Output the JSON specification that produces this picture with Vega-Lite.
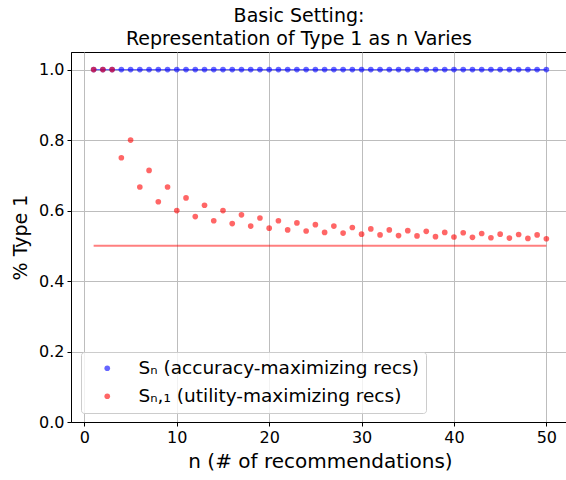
{
  "$schema": "https://vega.github.io/schema/vega-lite/v6.json",
  "autosize": {"type": "none"},
  "width": 498,
  "height": 370,
  "padding": {"left": 71, "top": 52, "right": 0, "bottom": 58},
  "background": "white",
  "title": {
    "text": ["Basic Setting:", "Representation of Type 1 as n Varies"],
    "font": "DejaVu Sans",
    "fontSize": 19,
    "fontWeight": "normal",
    "color": "black",
    "anchor": "middle",
    "dx": -21,
    "offset": 3,
    "lineHeight": 23
  },
  "config": {
    "font": "DejaVu Sans",
    "view": {"stroke": "black", "strokeWidth": 1},
    "axis": {
      "domainColor": "black",
      "tickColor": "black",
      "tickSize": 4,
      "labelFontSize": 16,
      "labelColor": "black",
      "labelFont": "DejaVu Sans",
      "titleFont": "DejaVu Sans",
      "titleFontWeight": "normal",
      "titleColor": "black",
      "gridColor": "#bdbdbd",
      "gridWidth": 1,
      "labelPadding": 3
    },
    "legend": {
      "labelFont": "DejaVu Sans",
      "labelFontSize": 18.5,
      "labelColor": "black",
      "labelLimit": 400
    }
  },
  "datasets": {
    "pts": [
      {"n": 1, "value": 1.0, "series": "Sₙ (accuracy-maximizing recs)"},
      {"n": 2, "value": 1.0, "series": "Sₙ (accuracy-maximizing recs)"},
      {"n": 3, "value": 1.0, "series": "Sₙ (accuracy-maximizing recs)"},
      {"n": 4, "value": 1.0, "series": "Sₙ (accuracy-maximizing recs)"},
      {"n": 5, "value": 1.0, "series": "Sₙ (accuracy-maximizing recs)"},
      {"n": 6, "value": 1.0, "series": "Sₙ (accuracy-maximizing recs)"},
      {"n": 7, "value": 1.0, "series": "Sₙ (accuracy-maximizing recs)"},
      {"n": 8, "value": 1.0, "series": "Sₙ (accuracy-maximizing recs)"},
      {"n": 9, "value": 1.0, "series": "Sₙ (accuracy-maximizing recs)"},
      {"n": 10, "value": 1.0, "series": "Sₙ (accuracy-maximizing recs)"},
      {"n": 11, "value": 1.0, "series": "Sₙ (accuracy-maximizing recs)"},
      {"n": 12, "value": 1.0, "series": "Sₙ (accuracy-maximizing recs)"},
      {"n": 13, "value": 1.0, "series": "Sₙ (accuracy-maximizing recs)"},
      {"n": 14, "value": 1.0, "series": "Sₙ (accuracy-maximizing recs)"},
      {"n": 15, "value": 1.0, "series": "Sₙ (accuracy-maximizing recs)"},
      {"n": 16, "value": 1.0, "series": "Sₙ (accuracy-maximizing recs)"},
      {"n": 17, "value": 1.0, "series": "Sₙ (accuracy-maximizing recs)"},
      {"n": 18, "value": 1.0, "series": "Sₙ (accuracy-maximizing recs)"},
      {"n": 19, "value": 1.0, "series": "Sₙ (accuracy-maximizing recs)"},
      {"n": 20, "value": 1.0, "series": "Sₙ (accuracy-maximizing recs)"},
      {"n": 21, "value": 1.0, "series": "Sₙ (accuracy-maximizing recs)"},
      {"n": 22, "value": 1.0, "series": "Sₙ (accuracy-maximizing recs)"},
      {"n": 23, "value": 1.0, "series": "Sₙ (accuracy-maximizing recs)"},
      {"n": 24, "value": 1.0, "series": "Sₙ (accuracy-maximizing recs)"},
      {"n": 25, "value": 1.0, "series": "Sₙ (accuracy-maximizing recs)"},
      {"n": 26, "value": 1.0, "series": "Sₙ (accuracy-maximizing recs)"},
      {"n": 27, "value": 1.0, "series": "Sₙ (accuracy-maximizing recs)"},
      {"n": 28, "value": 1.0, "series": "Sₙ (accuracy-maximizing recs)"},
      {"n": 29, "value": 1.0, "series": "Sₙ (accuracy-maximizing recs)"},
      {"n": 30, "value": 1.0, "series": "Sₙ (accuracy-maximizing recs)"},
      {"n": 31, "value": 1.0, "series": "Sₙ (accuracy-maximizing recs)"},
      {"n": 32, "value": 1.0, "series": "Sₙ (accuracy-maximizing recs)"},
      {"n": 33, "value": 1.0, "series": "Sₙ (accuracy-maximizing recs)"},
      {"n": 34, "value": 1.0, "series": "Sₙ (accuracy-maximizing recs)"},
      {"n": 35, "value": 1.0, "series": "Sₙ (accuracy-maximizing recs)"},
      {"n": 36, "value": 1.0, "series": "Sₙ (accuracy-maximizing recs)"},
      {"n": 37, "value": 1.0, "series": "Sₙ (accuracy-maximizing recs)"},
      {"n": 38, "value": 1.0, "series": "Sₙ (accuracy-maximizing recs)"},
      {"n": 39, "value": 1.0, "series": "Sₙ (accuracy-maximizing recs)"},
      {"n": 40, "value": 1.0, "series": "Sₙ (accuracy-maximizing recs)"},
      {"n": 41, "value": 1.0, "series": "Sₙ (accuracy-maximizing recs)"},
      {"n": 42, "value": 1.0, "series": "Sₙ (accuracy-maximizing recs)"},
      {"n": 43, "value": 1.0, "series": "Sₙ (accuracy-maximizing recs)"},
      {"n": 44, "value": 1.0, "series": "Sₙ (accuracy-maximizing recs)"},
      {"n": 45, "value": 1.0, "series": "Sₙ (accuracy-maximizing recs)"},
      {"n": 46, "value": 1.0, "series": "Sₙ (accuracy-maximizing recs)"},
      {"n": 47, "value": 1.0, "series": "Sₙ (accuracy-maximizing recs)"},
      {"n": 48, "value": 1.0, "series": "Sₙ (accuracy-maximizing recs)"},
      {"n": 49, "value": 1.0, "series": "Sₙ (accuracy-maximizing recs)"},
      {"n": 50, "value": 1.0, "series": "Sₙ (accuracy-maximizing recs)"},
      {"n": 1, "value": 1.0, "series": "Sₙ,₁ (utility-maximizing recs)"},
      {"n": 2, "value": 1.0, "series": "Sₙ,₁ (utility-maximizing recs)"},
      {"n": 3, "value": 1.0, "series": "Sₙ,₁ (utility-maximizing recs)"},
      {"n": 4, "value": 0.75, "series": "Sₙ,₁ (utility-maximizing recs)"},
      {"n": 5, "value": 0.8, "series": "Sₙ,₁ (utility-maximizing recs)"},
      {"n": 6, "value": 0.667, "series": "Sₙ,₁ (utility-maximizing recs)"},
      {"n": 7, "value": 0.714, "series": "Sₙ,₁ (utility-maximizing recs)"},
      {"n": 8, "value": 0.625, "series": "Sₙ,₁ (utility-maximizing recs)"},
      {"n": 9, "value": 0.667, "series": "Sₙ,₁ (utility-maximizing recs)"},
      {"n": 10, "value": 0.6, "series": "Sₙ,₁ (utility-maximizing recs)"},
      {"n": 11, "value": 0.636, "series": "Sₙ,₁ (utility-maximizing recs)"},
      {"n": 12, "value": 0.583, "series": "Sₙ,₁ (utility-maximizing recs)"},
      {"n": 13, "value": 0.615, "series": "Sₙ,₁ (utility-maximizing recs)"},
      {"n": 14, "value": 0.571, "series": "Sₙ,₁ (utility-maximizing recs)"},
      {"n": 15, "value": 0.6, "series": "Sₙ,₁ (utility-maximizing recs)"},
      {"n": 16, "value": 0.563, "series": "Sₙ,₁ (utility-maximizing recs)"},
      {"n": 17, "value": 0.588, "series": "Sₙ,₁ (utility-maximizing recs)"},
      {"n": 18, "value": 0.556, "series": "Sₙ,₁ (utility-maximizing recs)"},
      {"n": 19, "value": 0.579, "series": "Sₙ,₁ (utility-maximizing recs)"},
      {"n": 20, "value": 0.55, "series": "Sₙ,₁ (utility-maximizing recs)"},
      {"n": 21, "value": 0.571, "series": "Sₙ,₁ (utility-maximizing recs)"},
      {"n": 22, "value": 0.545, "series": "Sₙ,₁ (utility-maximizing recs)"},
      {"n": 23, "value": 0.565, "series": "Sₙ,₁ (utility-maximizing recs)"},
      {"n": 24, "value": 0.542, "series": "Sₙ,₁ (utility-maximizing recs)"},
      {"n": 25, "value": 0.56, "series": "Sₙ,₁ (utility-maximizing recs)"},
      {"n": 26, "value": 0.538, "series": "Sₙ,₁ (utility-maximizing recs)"},
      {"n": 27, "value": 0.556, "series": "Sₙ,₁ (utility-maximizing recs)"},
      {"n": 28, "value": 0.536, "series": "Sₙ,₁ (utility-maximizing recs)"},
      {"n": 29, "value": 0.552, "series": "Sₙ,₁ (utility-maximizing recs)"},
      {"n": 30, "value": 0.533, "series": "Sₙ,₁ (utility-maximizing recs)"},
      {"n": 31, "value": 0.548, "series": "Sₙ,₁ (utility-maximizing recs)"},
      {"n": 32, "value": 0.531, "series": "Sₙ,₁ (utility-maximizing recs)"},
      {"n": 33, "value": 0.545, "series": "Sₙ,₁ (utility-maximizing recs)"},
      {"n": 34, "value": 0.529, "series": "Sₙ,₁ (utility-maximizing recs)"},
      {"n": 35, "value": 0.543, "series": "Sₙ,₁ (utility-maximizing recs)"},
      {"n": 36, "value": 0.528, "series": "Sₙ,₁ (utility-maximizing recs)"},
      {"n": 37, "value": 0.541, "series": "Sₙ,₁ (utility-maximizing recs)"},
      {"n": 38, "value": 0.526, "series": "Sₙ,₁ (utility-maximizing recs)"},
      {"n": 39, "value": 0.538, "series": "Sₙ,₁ (utility-maximizing recs)"},
      {"n": 40, "value": 0.525, "series": "Sₙ,₁ (utility-maximizing recs)"},
      {"n": 41, "value": 0.537, "series": "Sₙ,₁ (utility-maximizing recs)"},
      {"n": 42, "value": 0.524, "series": "Sₙ,₁ (utility-maximizing recs)"},
      {"n": 43, "value": 0.535, "series": "Sₙ,₁ (utility-maximizing recs)"},
      {"n": 44, "value": 0.523, "series": "Sₙ,₁ (utility-maximizing recs)"},
      {"n": 45, "value": 0.533, "series": "Sₙ,₁ (utility-maximizing recs)"},
      {"n": 46, "value": 0.522, "series": "Sₙ,₁ (utility-maximizing recs)"},
      {"n": 47, "value": 0.532, "series": "Sₙ,₁ (utility-maximizing recs)"},
      {"n": 48, "value": 0.521, "series": "Sₙ,₁ (utility-maximizing recs)"},
      {"n": 49, "value": 0.531, "series": "Sₙ,₁ (utility-maximizing recs)"},
      {"n": 50, "value": 0.52, "series": "Sₙ,₁ (utility-maximizing recs)"}
    ],
    "base": [
      {"n": 1, "value": 0.5},
      {"n": 50, "value": 0.5}
    ]
  },
  "layer": [
    {
      "data": {"name": "pts"},
      "transform": [{"filter": "datum.series === 'Sₙ (accuracy-maximizing recs)'"}],
      "mark": {"type": "line", "color": "#0000ff", "opacity": 0.6, "strokeWidth": 1.2},
      "encoding": {
        "x": {"field": "n", "type": "quantitative"},
        "y": {"field": "value", "type": "quantitative"}
      }
    },
    {
      "data": {"name": "base"},
      "mark": {"type": "line", "color": "#ff0000", "opacity": 0.5, "strokeWidth": 2},
      "encoding": {
        "x": {"field": "n", "type": "quantitative"},
        "y": {"field": "value", "type": "quantitative"}
      }
    },
    {
      "data": {"name": "pts"},
      "mark": {"type": "point", "filled": true, "opacity": 0.6, "size": 32},
      "encoding": {
        "x": {
          "field": "n", "type": "quantitative",
          "scale": {"domain": [-1.45, 52.45], "nice": false, "zero": false},
          "axis": {"values": [0, 10, 20, 30, 40, 50], "title": "n (# of recommendations)", "titleFontSize": 20, "titlePadding": 6}
        },
        "y": {
          "field": "value", "type": "quantitative",
          "scale": {"domain": [0, 1.05], "nice": false},
          "axis": {"values": [0, 0.2, 0.4, 0.6, 0.8, 1.0], "format": ".1f", "title": "% Type 1", "titleFontSize": 19, "titlePadding": 8}
        },
        "color": {
          "field": "series", "type": "nominal",
          "scale": {
            "domain": ["Sₙ (accuracy-maximizing recs)", "Sₙ,₁ (utility-maximizing recs)"],
            "range": ["#0000ff", "#ff0000"]
          },
          "legend": {
            "title": null,
            "orient": "none",
            "legendX": 10,
            "legendY": 300,
            "padding": 7,
            "fillColor": "rgba(255,255,255,0.8)",
            "strokeColor": "#cccccc",
            "cornerRadius": 3,
            "symbolSize": 32,
            "symbolOpacity": 0.6,
            "symbolOffset": 10,
            "labelOffset": 22,
            "rowPadding": 9,
            "labelLimit": 400
          }
        }
      }
    }
  ]
}
